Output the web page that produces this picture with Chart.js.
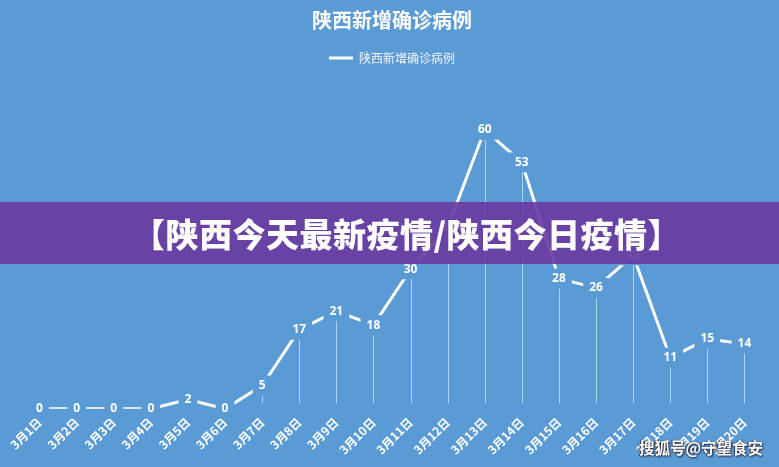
<!DOCTYPE html>
<html>
<head>
<meta charset="utf-8">
<script src="https://cdn.jsdelivr.net/npm/chart.js@4/dist/chart.umd.min.js"></script>
<style>
  html, body { margin: 0; padding: 0; background: #5b9bd5; }
  #wrap { position: relative; width: 779px; height: 467px; overflow: hidden; }
  #chart { position: absolute; left: 0; top: 0; }
  /* purple headline strip laid over the chart */
  #banner {
    position: absolute; left: 0; top: 202px; width: 779px; height: 62px;
    box-sizing: border-box; padding-left: 34px;
    background: rgba(106, 56, 160, 0.9);
    color: #fff; font-family: "Noto Sans CJK SC", sans-serif; font-weight: 900;
    font-size: 33px; line-height: 62px; text-align: center; letter-spacing: 0.5px;
  }
  #mark {
    position: absolute; right: 16px; bottom: 9px;
    color: #fff; font-family: "Noto Sans CJK SC", sans-serif; font-weight: bold;
    font-size: 15.5px; text-shadow: 1px 1px 2px #223, -1px 0 1px #334;
  }
</style>
</head>
<body>
<div id="wrap">
  <canvas id="chart" width="779" height="467"></canvas>
  <div id="banner">【陕西今天最新疫情/陕西今日疫情】</div>
  <div id="mark">搜狐号@守望食安</div>
</div>
<script>
const days = ["3月1日", "3月2日", "3月3日", "3月4日", "3月5日", "3月6日", "3月7日",
  "3月8日", "3月9日", "3月10日", "3月11日", "3月12日", "3月13日", "3月14日",
  "3月15日", "3月16日", "3月17日", "3月18日", "3月19日", "3月20日"];
const newCases = [0, 0, 0, 0, 2, 0, 5, 17, 21, 18, 30, 39, 60, 53, 28, 26, 33, 11, 15, 14];
const seriesName = "陕西新增确诊病例";

const bg = "#5b9bd5";

// thin drop lines from each point to the bottom of the plot
const dropLines = {
  id: "dropLines",
  beforeDatasetsDraw(chart) {
    const { ctx, chartArea } = chart;
    const meta = chart.getDatasetMeta(0);
    ctx.save();
    ctx.strokeStyle = "rgba(255,255,255,0.55)";
    ctx.lineWidth = 1;
    meta.data.forEach((pt) => {
      ctx.beginPath();
      ctx.moveTo(Math.round(pt.x) + 0.5, pt.y);
      ctx.lineTo(Math.round(pt.x) + 0.5, chartArea.bottom - 6);
      ctx.stroke();
    });
    ctx.restore();
  },
};

// value labels sitting on the points, with a box that hides the line
const valueLabels = {
  id: "valueLabels",
  afterDatasetsDraw(chart) {
    const { ctx } = chart;
    const meta = chart.getDatasetMeta(0);
    const values = chart.data.datasets[0].data;
    ctx.save();
    ctx.font = "bold 12px 'Open Sans', sans-serif";
    ctx.textAlign = "center";
    ctx.textBaseline = "middle";
    meta.data.forEach((pt, i) => {
      const txt = String(values[i]);
      const w = ctx.measureText(txt).width + 12;
      ctx.fillStyle = bg;
      ctx.fillRect(pt.x - w / 2, pt.y - 10, w, 20);
      ctx.fillStyle = "#fff";
      ctx.fillText(txt, pt.x, pt.y);
    });
    ctx.restore();
  },
};

new Chart(document.getElementById("chart"), {
  type: "line",
  data: {
    labels: days,
    datasets: [
      {
        label: seriesName,
        data: newCases,
        borderColor: "#ffffff",
        backgroundColor: "#ffffff",
        borderWidth: 3,
        pointRadius: 0,
        pointStyle: "line",
        tension: 0,
      },
    ],
  },
  options: {
    responsive: false,
    animation: false,
    devicePixelRatio: 1,
    layout: { padding: { left: 21, right: 16, top: 6, bottom: 4 } },
    plugins: {
      title: {
        display: true,
        text: seriesName,
        color: "#ffffff",
        font: { family: "'Noto Sans CJK SC'", size: 20, weight: "bold" },
        padding: { top: 2, bottom: 12 },
      },
      legend: {
        display: true,
        labels: {
          color: "#f0f4fa",
          font: { family: "'Noto Sans CJK SC'", size: 12 },
          usePointStyle: true,
          pointStyleWidth: 24,
          padding: 8,
        },
      },
      tooltip: { enabled: false },
    },
    scales: {
      x: {
        offset: true,
        grid: { display: false, drawTicks: false },
        border: { display: false },
        ticks: {
          color: "#ffffff",
          minRotation: 45,
          maxRotation: 45,
          padding: 6,
          autoSkip: false,
          font: { family: "'Noto Sans CJK SC'", size: 12, weight: "bold" },
        },
      },
      y: {
        display: false,
        min: 0,
        max: 72,
      },
    },
  },
  plugins: [dropLines, valueLabels],
});
</script>
</body>
</html>
